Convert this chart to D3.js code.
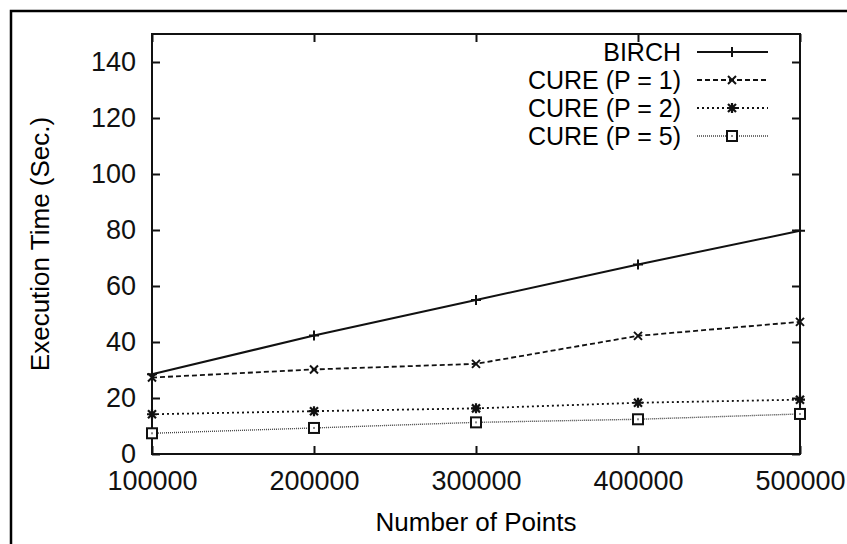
<!DOCTYPE html>
<html>
<head>
<meta charset="utf-8">
<script src="https://cdn.jsdelivr.net/npm/d3@7"></script>
<style>
  body { margin: 0; background: #fff; }
  svg { display: block; font-family: "Liberation Sans", Arial, sans-serif; }
  .axis path, .axis line { stroke: #111; stroke-width: 2; }
  .axis text { font-size: 27px; fill: #111; }
</style>
</head>
<body>
<div id="chart"></div>
<script>
var xValues = [100000, 200000, 300000, 400000, 500000];
var seriesNames = ["BIRCH", "CURE (P = 1)", "CURE (P = 2)", "CURE (P = 5)"];
var birch = [28.5, 42.3, 55, 67.7, 79.7];
var cure1 = [27.3, 30.2, 32.2, 42.2, 47.2];
var cure2 = [14.2, 15.3, 16.3, 18.3, 19.4];
var cure5 = [7.4, 9.3, 11.3, 12.4, 14.3];
var yTicks = [0, 20, 40, 60, 80, 100, 120, 140];

var width = 847, height = 544;
var margin = {left: 152, top: 34, right: 47, bottom: 90};

var svg = d3.select("#chart").append("svg")
    .attr("width", width)
    .attr("height", height);

// outer frame (only left/top visible, cropped)
svg.append("path")
    .attr("d", "M11," + height + "V11H" + width)
    .attr("fill", "none")
    .attr("stroke", "#000")
    .attr("stroke-width", 2.5);

var x = d3.scaleLinear().domain([100000, 500000]).range([margin.left, width - margin.right]);
var y = d3.scaleLinear().domain([0, 150]).range([height - margin.bottom, margin.top]);

var series = [
  {name: seriesNames[0], values: birch, dash: null, width: 2, marker: "plus"},
  {name: seriesNames[1], values: cure1, dash: "5,3", width: 1.8, marker: "cross"},
  {name: seriesNames[2], values: cure2, dash: "2,3", width: 1.8, marker: "star"},
  {name: seriesNames[3], values: cure5, dash: "1,1", width: 1.4, marker: "box"}
];

var y0 = height - margin.bottom, y1 = margin.top;
var x0 = margin.left, x1 = width - margin.right;

// axes, ticks inward
svg.append("g").attr("class", "axis")
    .attr("transform", "translate(0," + y0 + ")")
    .call(d3.axisBottom(x).tickValues(xValues).tickSizeInner(-8).tickSizeOuter(0).tickPadding(17).tickFormat(d3.format("d")))
    .call(function(g) { g.select(".domain").remove(); });

svg.append("g").attr("class", "axis")
    .attr("transform", "translate(0," + y1 + ")")
    .call(d3.axisTop(x).tickValues(xValues).tickSizeInner(-8).tickSizeOuter(0).tickFormat(""))
    .call(function(g) { g.select(".domain").remove(); });

svg.append("g").attr("class", "axis")
    .attr("transform", "translate(" + x0 + ",0)")
    .call(d3.axisLeft(y).tickValues(yTicks).tickSizeInner(-8).tickSizeOuter(0).tickPadding(16))
    .call(function(g) { g.select(".domain").remove(); });

svg.append("g").attr("class", "axis")
    .attr("transform", "translate(" + x1 + ",0)")
    .call(d3.axisRight(y).tickValues(yTicks).tickSizeInner(-8).tickSizeOuter(0).tickFormat(""))
    .call(function(g) { g.select(".domain").remove(); });

svg.append("rect")
    .attr("x", x0).attr("y", y1)
    .attr("width", x1 - x0).attr("height", y0 - y1)
    .attr("fill", "none")
    .attr("stroke", "#111")
    .attr("stroke-width", 2);

// axis titles
svg.append("text")
    .attr("x", (x0 + x1) / 2)
    .attr("y", 531)
    .attr("text-anchor", "middle")
    .style("font-size", "26px")
    .text("Number of Points");

svg.append("text")
    .attr("transform", "translate(49," + ((y0 + y1) / 2) + ") rotate(-90)")
    .attr("text-anchor", "middle")
    .style("font-size", "26px")
    .text("Execution Time (Sec.)");

function drawMarker(g, type, cx, cy) {
  var s = 5;
  if (type === "plus") {
    g.append("path").attr("d", "M" + (cx - s) + "," + cy + "H" + (cx + s) + "M" + cx + "," + (cy - s) + "V" + (cy + s))
      .attr("stroke", "#111").attr("stroke-width", 2);
  } else if (type === "cross") {
    g.append("path").attr("d", "M" + (cx - 4) + "," + (cy - 4) + "L" + (cx + 4) + "," + (cy + 4) + "M" + (cx - 4) + "," + (cy + 4) + "L" + (cx + 4) + "," + (cy - 4))
      .attr("stroke", "#111").attr("stroke-width", 2);
  } else if (type === "star") {
    g.append("path").attr("d", "M" + (cx - s) + "," + cy + "H" + (cx + s) + "M" + cx + "," + (cy - s) + "V" + (cy + s) +
        "M" + (cx - 4) + "," + (cy - 4) + "L" + (cx + 4) + "," + (cy + 4) + "M" + (cx - 4) + "," + (cy + 4) + "L" + (cx + 4) + "," + (cy - 4))
      .attr("stroke", "#111").attr("stroke-width", 2.2);
  } else {
    g.append("rect").attr("x", cx - 5).attr("y", cy - 5).attr("width", 10).attr("height", 10)
      .attr("fill", "#fff").attr("stroke", "#111").attr("stroke-width", 2);
    g.append("rect").attr("x", cx - 1).attr("y", cy - 1).attr("width", 2).attr("height", 2).attr("fill", "#888");
  }
}

var line = d3.line()
    .x(function(d, i) { return x(xValues[i]); })
    .y(function(d) { return y(d); });

series.forEach(function(s) {
  var g = svg.append("g");
  g.append("path")
      .datum(s.values)
      .attr("d", line)
      .attr("fill", "none")
      .attr("stroke", s.marker === "box" ? "#444" : "#111")
      .attr("stroke-width", s.width)
      .attr("stroke-dasharray", s.dash);
  s.values.forEach(function(v, i) {
    drawMarker(g, s.marker, x(xValues[i]), y(v));
  });
});

// legend
var legend = svg.append("g");
var legendY = d3.scalePoint().domain(seriesNames).range([52, 136]);
series.forEach(function(s) {
  var ly = legendY(s.name);
  legend.append("text")
      .attr("x", 681)
      .attr("y", ly)
      .attr("dy", "0.36em")
      .attr("text-anchor", "end")
      .style("font-size", "25px")
      .text(s.name);
  legend.append("line")
      .attr("x1", 697).attr("x2", 768)
      .attr("y1", ly).attr("y2", ly)
      .attr("stroke", s.marker === "box" ? "#444" : "#111")
      .attr("stroke-width", s.width)
      .attr("stroke-dasharray", s.dash);
  drawMarker(legend, s.marker, 732, ly);
});
</script>
</body>
</html>
